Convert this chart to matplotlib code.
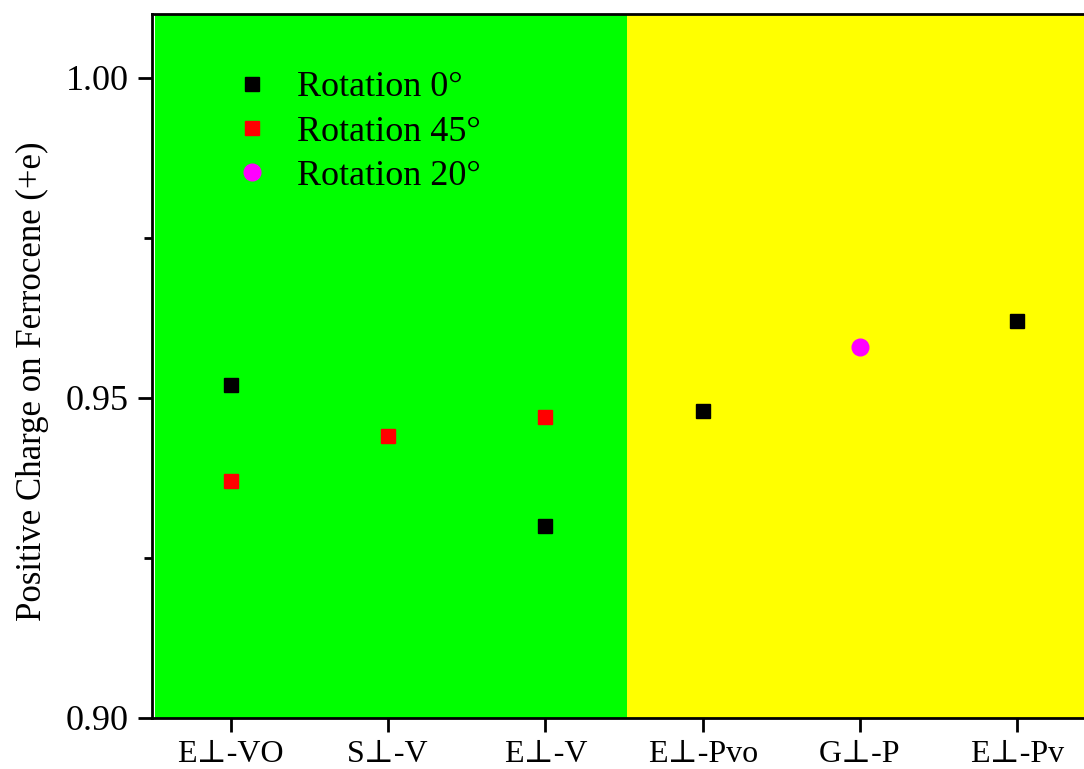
import matplotlib
matplotlib.use("Agg")
import matplotlib.pyplot as plt
from matplotlib.ticker import MultipleLocator, FormatStrFormatter

plt.rcParams['font.family'] = ['Liberation Serif', 'DejaVu Serif']

categories = ["E\u22a5-VO", "S\u22a5-V", "E\u22a5-V", "E\u22a5-Pvo", "G\u22a5-P", "E\u22a5-Pv"]
rot0_x = [1, 3, 4, 6]
rot0_y = [0.952, 0.930, 0.948, 0.962]
rot45_x = [1, 2, 3]
rot45_y = [0.937, 0.944, 0.947]
rot20_x = [5]
rot20_y = [0.958]

fig = plt.figure(figsize=(10.84, 7.69), dpi=100)
ax = fig.add_axes([152/1084, 1 - 718/769, (1096 - 152)/1084, 704/769])

ax.axvspan(0.52, 3.52, color='#00ff00', zorder=0, lw=0)
ax.axvspan(3.52, 6.5, color='#ffff00', zorder=0, lw=0)

ax.plot(rot0_x, rot0_y, 's', color='black', ms=10.5, ls='none', label='Rotation 0°', zorder=3)
ax.plot(rot45_x, rot45_y, 's', color='red', ms=10.5, ls='none', label='Rotation 45°', zorder=3)
ax.plot(rot20_x, rot20_y, 'o', color='magenta', ms=12, ls='none', label='Rotation 20°', zorder=3)

ax.set_xlim(0.5, 6.5)
ax.set_ylim(0.90, 1.01)
ax.set_xticks(range(1, 7))
ax.set_xticklabels(categories, fontsize=23)
ax.yaxis.set_major_locator(MultipleLocator(0.05))
ax.yaxis.set_minor_locator(MultipleLocator(0.025))
ax.yaxis.set_major_formatter(FormatStrFormatter('%.2f'))
ax.tick_params(axis='y', labelsize=26, direction='out', length=10, width=2, pad=7)
ax.tick_params(axis='y', which='minor', direction='out', length=6, width=2)
ax.tick_params(axis='x', direction='out', length=10, width=2, pad=6)
for s in ax.spines.values():
    s.set_linewidth(2)

ax.set_ylabel('Positive Charge on Ferrocene (+e)', fontsize=25)
ax.yaxis.set_label_coords(-0.109, 0.479)

ax.legend(loc='upper left', bbox_to_anchor=(0.064, 0.95), frameon=False, fontsize=26,
          handletextpad=0.75, labelspacing=0.31, handlelength=1.0, borderaxespad=0.2)

fig.savefig('out.png', dpi=100)
